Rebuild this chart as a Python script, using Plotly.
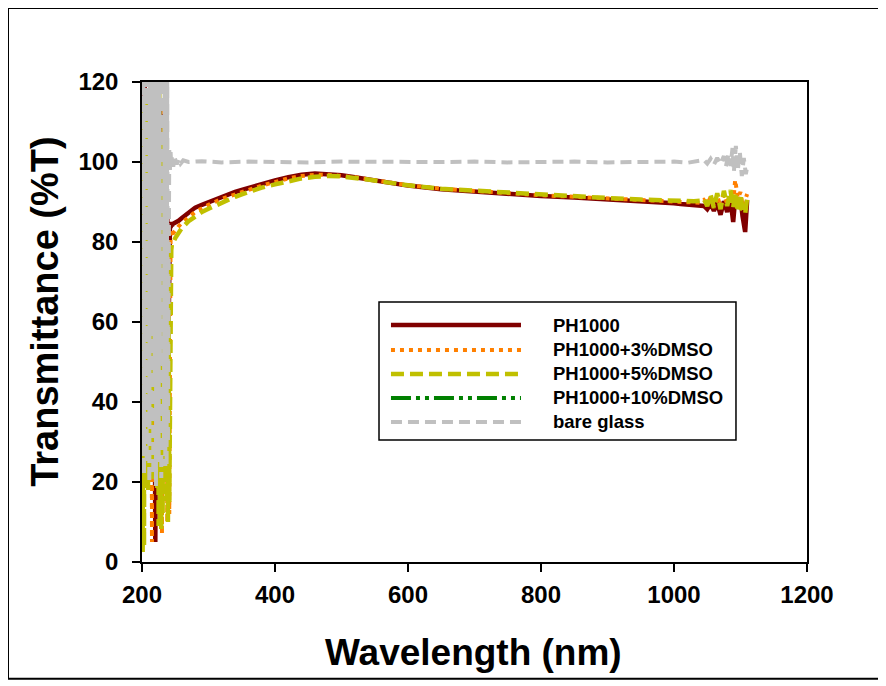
import plotly.graph_objects as go

# ---------------- data ----------------
wl_uv = [200, 201, 202, 203, 204, 205, 206, 207, 208, 209, 210, 211, 212, 213, 214,
         215, 216, 217, 218, 219, 220, 221, 222, 223, 224, 225, 226, 227, 228, 229,
         230, 231, 232, 233, 234, 235, 236, 237, 238, 239, 240, 241, 242, 243, 244, 245]

ph1000_uv = [90, 25, 110, 22, 120, 25, 100, 24, 115, 30, 105, 22, 118, 35, 95,
             21, 112, 40, 108, 30, 5, 30, 100, 22, 115, 38, 104, 26, 110, 45,
             98, 24, 116, 33, 102, 50, 95, 30, 88, 45, 75, 60, 84.5, 83.5, 85, 84]
dmso3_uv = [100, 20, 118, 25, 105, 30, 120, 22, 110, 40, 100, 25, 115, 30, 90,
            5, 108, 35, 120, 28, 100, 40, 118, 25, 95, 30, 112, 22, 104, 35,
            7, 95, 27, 115, 40, 100, 20, 90, 10, 70, 60, 12, 78, 81.5, 82.5, 83]
dmso5_uv = [125, 2, 110, 4, 95, 20, 118, 25, 100, 18, 112, 30, 96, 22, 120,
            35, 105, 20, 115, 40, 98, 24, 110, 18, 100, 9, 118, 10, 92, 8,
            105, 12, 96, 20, 110, 30, 85, 15, 75, 10, 65, 15, 45, 72, 78, 79.5]
glass_uv = [125, 30, 125, 22, 125, 40, 125, 25, 125, 55, 125, 20, 125, 35, 125,
            60, 125, 22, 125, 45, 125, 19, 125, 38, 125, 25, 125, 50, 125, 21,
            125, 42, 125, 28, 125, 24, 125, 24, 125, 30, 101, 103, 98, 102.5, 99, 101.5]

wl_vis = [246, 250, 255, 260, 270, 280, 290, 300, 320, 340, 350, 360, 380, 400,
          420, 440, 460, 480, 500, 520, 540, 560, 580, 600, 650, 700, 750, 800,
          850, 900, 950, 1000, 1010, 1020, 1030, 1040]
ph1000_vis = [84.5, 84.8, 85.3, 86.0, 87.3, 88.6, 89.3, 90.0, 91.4, 92.5, 93.0, 93.5, 94.5, 95.4,
              96.2, 96.8, 97.1, 97.0, 96.7, 96.2, 95.7, 95.2, 94.6, 94.1, 93.2, 92.6, 92.0, 91.5,
              91.1, 90.7, 90.2, 89.7, 89.5, 89.4, 89.2, 89.0]
dmso3_vis = [82.0, 83.0, 83.9, 84.8, 86.3, 87.5, 88.4, 89.3, 90.8, 92.0, 92.5, 93.0, 94.1, 95.0,
             95.9, 96.5, 96.8, 96.8, 96.6, 96.2, 95.7, 95.2, 94.7, 94.2, 93.3, 92.7, 92.2, 91.7,
             91.3, 90.9, 90.5, 90.1, 90.0, 89.9, 89.9, 89.8]
dmso5_vis = [79.5, 81.0, 82.2, 83.5, 85.2, 86.5, 87.5, 88.3, 89.9, 91.3, 91.9, 92.5, 93.6, 94.4,
             95.2, 95.9, 96.3, 96.5, 96.4, 96.1, 95.6, 95.1, 94.6, 94.2, 93.3, 92.8, 92.3, 91.8,
             91.4, 91.0, 90.6, 90.2, 90.1, 90.1, 90.2, 90.3]

wl_nir = [1045, 1050, 1055, 1060, 1065, 1070, 1075, 1080, 1085, 1089, 1092, 1096,
          1100, 1103, 1107, 1110]
ph1000_nir = [89.0, 88.2, 89.5, 87.8, 89.8, 86.8, 90.2, 87.5, 90.5, 85.0, 90.8, 88.5,
              91.0, 86.5, 82.5, 90.5]
dmso3_nir = [90.5, 89.5, 91.2, 89.0, 91.5, 88.8, 92.0, 89.5, 92.5, 90.0, 95.5, 91.0,
             92.5, 89.0, 90.5, 92.0]
dmso5_nir = [90.8, 89.0, 91.8, 88.5, 92.2, 88.2, 92.8, 89.0, 93.0, 88.5, 92.5, 87.5,
             92.0, 88.0, 87.0, 91.0]

wl_glass_rest = [247, 249, 252, 255, 258, 262, 270, 290, 320, 360, 400, 450, 500, 550,
                 600, 650, 700, 750, 800, 850, 900, 950, 1000, 1020, 1040,
                 1045, 1050, 1055, 1060, 1065, 1070, 1075, 1078, 1082, 1085, 1088,
                 1090, 1093, 1096, 1099, 1102, 1105, 1108, 1111]
glass_rest = [98.8, 101.2, 99.4, 100.8, 99.6, 100.4, 100.0, 100.2, 99.9, 100.1, 100.0, 99.9,
              100.1, 100.0, 99.9, 100.0, 100.1, 99.9, 100.0, 100.1, 99.9, 100.0, 100.1, 99.8, 100.2,
              100.5, 99.6, 100.8, 99.3, 101.0, 99.5, 101.5, 98.8, 102.0, 99.0, 103.5,
              97.5, 104.0, 98.0, 102.5, 96.5, 101.0, 97.0, 99.5]

series_names = ["PH1000", "PH1000+3%DMSO", "PH1000+5%DMSO", "PH1000+10%DMSO", "bare glass"]
series_colors = ["#800000", "#FF8000", "#C0C000", "#008000", "#C0C0C0"]
series_dash = ["solid", "4px,5px", "13px,6px", "20px,5px,4px,5px,4px,5px", "11px,6px"]
series_width = [4.5, 4, 4.5, 4, 4]

x_ticks = [200, 400, 600, 800, 1000, 1200]
y_ticks = [0, 20, 40, 60, 80, 100, 120]

# ---------------- figure ----------------
series_x = [
    wl_uv + wl_vis + wl_nir,
    wl_uv + wl_vis + wl_nir,
    wl_uv + wl_vis + wl_nir,
    [],
    wl_uv + wl_glass_rest,
]
series_y = [
    ph1000_uv + ph1000_vis + ph1000_nir,
    dmso3_uv + dmso3_vis + dmso3_nir,
    dmso5_uv + dmso5_vis + dmso5_nir,
    [],
    glass_uv + glass_rest,
]

fig = go.Figure()
for name, xs, ys, c, d, w in zip(series_names, series_x, series_y,
                                 series_colors, series_dash, series_width):
    fig.add_trace(go.Scatter(x=xs, y=ys, mode="lines", name=name, showlegend=False,
                             line=dict(color=c, dash=d, width=w)))

bold = dict(family="Liberation Sans, Arial, sans-serif", color="black", weight="bold")

fig.update_layout(
    width=872, height=672,
    margin=dict(l=134, r=73, t=74, b=118),
    paper_bgcolor="white", plot_bgcolor="white",
    xaxis=dict(range=[200, 1200], tickvals=x_ticks, ticks="outside", ticklen=8,
               tickwidth=1.5, tickcolor="black", showline=True, linecolor="black",
               linewidth=1.5, mirror=True, showgrid=False, zeroline=False,
               tickfont=dict(size=24, **bold), ticklabelstandoff=2),
    yaxis=dict(range=[0, 120], tickvals=y_ticks, ticks="outside", ticklen=8,
               tickwidth=1.5, tickcolor="black", showline=True, linecolor="black",
               linewidth=1.5, mirror=True, showgrid=False, zeroline=False,
               tickfont=dict(size=24, **bold), ticklabelstandoff=9),
)

# axis titles
fig.add_annotation(text="Wavelength (nm)", xref="paper", yref="paper", x=0.499, y=-0.1875,
                   showarrow=False, xanchor="center", yanchor="middle",
                   font=dict(size=37, **bold))
fig.add_annotation(text="Transmittance (%T)", xref="paper", yref="paper", x=-0.146, y=0.523,
                   showarrow=False, xanchor="center", yanchor="middle", textangle=-90,
                   font=dict(size=38, **bold))

# outer frame
fig.add_shape(type="rect", xref="paper", yref="paper", x0=-0.2015, x1=1.1083,
              y0=-0.2432, y1=1.154, line=dict(color="black", width=2))

# legend box (drawn manually to get long sample lines)
fig.add_shape(type="rect", xref="paper", yref="paper", x0=0.3564, x1=0.8932,
              y0=0.2542, y1=0.5417, line=dict(color="black", width=1.5),
              fillcolor="white", layer="above")
row_y = [0.49375, 0.44167, 0.39167, 0.34167, 0.29167]
for name, c, d, w, ry in zip(series_names, series_colors, series_dash, series_width, row_y):
    fig.add_shape(type="line", xref="paper", yref="paper", x0=0.3744, x1=0.5699,
                  y0=ry, y1=ry, line=dict(color=c, dash=d, width=w), layer="above")
    fig.add_annotation(text=name, xref="paper", yref="paper", x=0.615, y=ry,
                       showarrow=False, xanchor="left", yanchor="middle",
                       font=dict(size=18.5, **bold))

fig.write_html("out.html")
